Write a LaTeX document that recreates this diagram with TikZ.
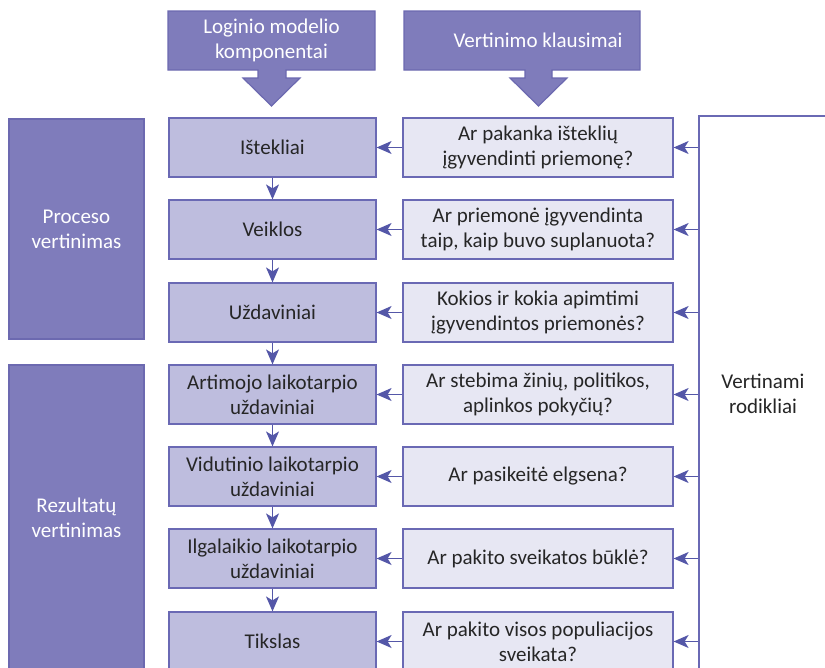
\documentclass[tikz,border=0pt]{standalone}
\usepackage{fontspec}
\setmainfont{Carlito}
\usetikzlibrary{arrows.meta}
\definecolor{hdr}{HTML}{7F7CBB}
\definecolor{hdrline}{HTML}{6C69B0}
\definecolor{midfill}{HTML}{BEBDDE}
\definecolor{qfill}{HTML}{E7E7F3}
\definecolor{edge}{HTML}{6A69B4}
\definecolor{arr}{HTML}{5457A8}
\definecolor{txt}{HTML}{262626}
\begin{document}
\begin{tikzpicture}[x=1pt,y=-1pt,
 every node/.style={font=\fontsize{21}{25}\selectfont, align=center, inner sep=0pt},
 midbox/.style={draw=edge, line width=1.2pt, fill=midfill, minimum width=207pt, minimum height=59pt, text=txt},
 qbox/.style={draw=edge, line width=1.2pt, fill=qfill, minimum width=270pt, minimum height=59pt, text=txt},
 sidebox/.style={draw=hdrline, line width=1.2pt, fill=hdr, minimum width=135pt, text=white},
 hdrshape/.style={fill=hdr, draw=hdrline, line width=1.2pt},
 tip/.tip={Stealth[length=15pt,width=13pt,inset=4pt]},
 conn/.style={arr, line width=1.3pt, -tip},
 ]
\useasboundingbox (0,0) rectangle (825,667);
\begin{scope}
\clip (0,0) rectangle (825,667);
% headers
\filldraw[hdrshape] (168,11) -- (375,11) -- (375,70) -- (286,70) -- (286,78) -- (300,78) -- (271.5,106) -- (243,78) -- (258,78) -- (258,70) -- (168,70) -- cycle;
\node[text=white] (h1) at (271.5,40.5) {Loginio modelio\\komponentai};
\filldraw[hdrshape] (404,11) -- (640,11) -- (640,70) -- (552,70) -- (552,78) -- (567,78) -- (538.5,106) -- (510,78) -- (525,78) -- (525,70) -- (404,70) -- cycle;
\node[text=white] (h2) at (538,40.5) {Vertinimo klausimai};
% side boxes
\node[sidebox, minimum height=220pt] (pv) at (76.5,229) {Proceso\\vertinimas};
\node[sidebox, minimum height=306pt] (rv) at (76.5,518) {Rezultatų\\vertinimas};
% big right box
\node[draw=edge, line width=1.2pt, fill=white, minimum width=128pt, minimum height=556pt, text=txt] (rk) at (763,394) {Vertinami\\rodikliai};
% middle boxes
\node[midbox] (m1) at (272.5,147.5) {Ištekliai};
\node[midbox] (m2) at (272.5,229.5) {Veiklos};
\node[midbox] (m3) at (272.5,312.5) {Uždaviniai};
\node[midbox] (m4) at (272.5,394.5) {Artimojo laikotarpio\\uždaviniai};
\node[midbox] (m5) at (272.5,476.5) {Vidutinio laikotarpio\\uždaviniai};
\node[midbox] (m6) at (272.5,558.5) {Ilgalaikio laikotarpio\\uždaviniai};
\node[midbox] (m7) at (272.5,641.5) {Tikslas};
% question boxes
\node[qbox] (q1) at (538,147.5) {Ar pakanka išteklių\\įgyvendinti priemonę?};
\node[qbox] (q2) at (538,229.5) {Ar priemonė įgyvendinta\\taip, kaip buvo suplanuota?};
\node[qbox] (q3) at (538,312.5) {Kokios ir kokia apimtimi\\įgyvendintos priemonės?};
\node[qbox] (q4) at (538,394.5) {Ar stebima žinių, politikos,\\aplinkos pokyčių?};
\node[qbox] (q5) at (538,476.5) {Ar pasikeitė elgsena?};
\node[qbox] (q6) at (538,558.5) {Ar pakito sveikatos būklė?};
\node[qbox] (q7) at (538,641.5) {Ar pakito visos populiacijos\\sveikata?};
% vertical arrows
\foreach \a/\b in {m1/m2,m2/m3,m3/m4,m4/m5,m5/m6,m6/m7}
  \draw[conn] (\a.south) -- (\b.north);
% horizontal arrows
\foreach \i in {1,...,7} {
  \draw[conn] (q\i.west) -- (m\i.east);
  \draw[conn] (rk.west |- q\i.east) -- (q\i.east);
}
\end{scope}
\end{tikzpicture}
\end{document}
